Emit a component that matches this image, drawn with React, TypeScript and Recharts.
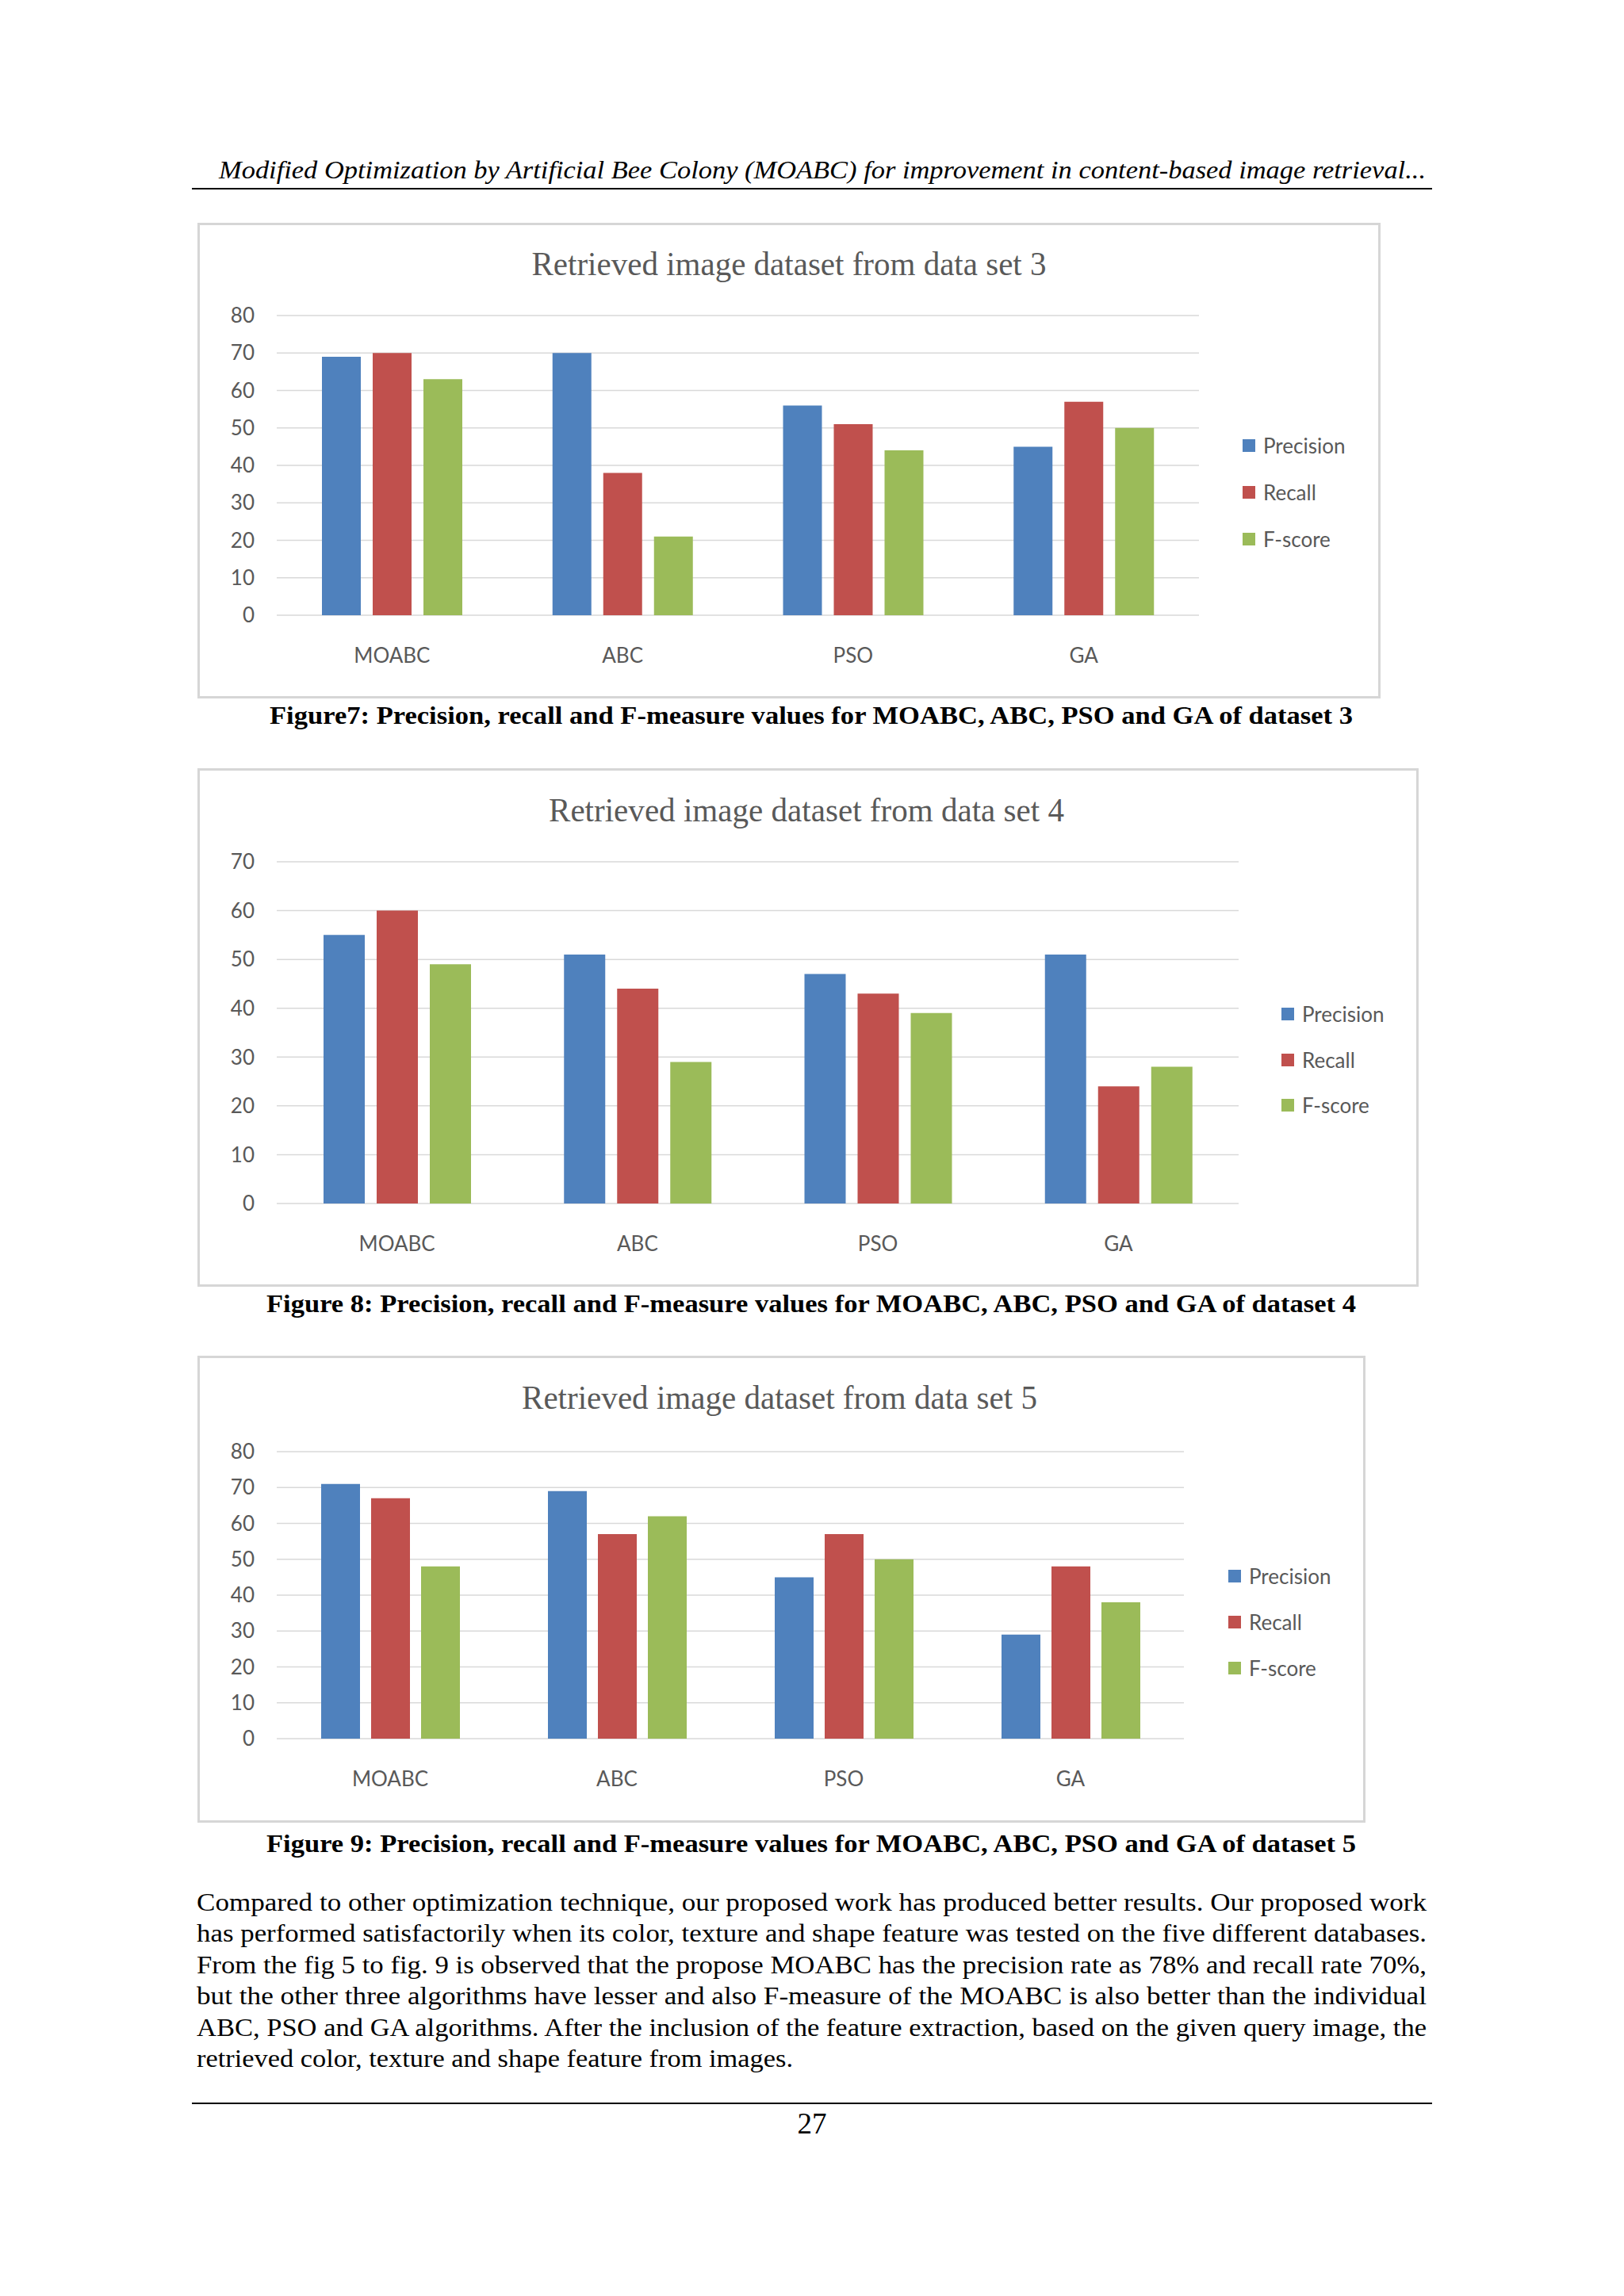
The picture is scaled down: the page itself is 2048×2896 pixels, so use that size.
import React from 'react';
import { BarChart, Bar, XAxis, YAxis, CartesianGrid, Legend } from 'recharts';

// ---------- data ----------
const categories = ['MOABC', 'ABC', 'PSO', 'GA'];
const seriesNames = ['Precision', 'Recall', 'F-score'];
const seriesColors = ['#4F81BD', '#C0504D', '#9BBB59'];

const ds3Precision = [69, 70, 56, 45];
const ds3Recall = [70, 38, 51, 57];
const ds3FScore = [63, 21, 44, 50];

const ds4Precision = [55, 51, 47, 51];
const ds4Recall = [60, 44, 43, 24];
const ds4FScore = [49, 29, 39, 28];

const ds5Precision = [71, 69, 45, 29];
const ds5Recall = [67, 57, 57, 48];
const ds5FScore = [48, 62, 50, 38];

const ticks80 = [0, 10, 20, 30, 40, 50, 60, 70, 80];
const ticks70 = [0, 10, 20, 30, 40, 50, 60, 70];

const chartTitles = [
  'Retrieved image dataset from data set 3',
  'Retrieved image dataset from data set 4',
  'Retrieved image dataset from data set 5',
];

const captions = [
  'Figure7: Precision, recall and F-measure values for MOABC, ABC, PSO and GA of dataset 3',
  'Figure 8: Precision, recall and F-measure values for MOABC, ABC, PSO and GA of dataset 4',
  'Figure 9: Precision, recall and F-measure values for MOABC, ABC, PSO and GA of dataset 5',
];

const headerText =
  'Modified Optimization by Artificial Bee Colony (MOABC) for improvement in content-based image retrieval...';

const bodyLines = [
  'Compared to other optimization technique, our proposed work has produced better results. Our proposed work',
  'has performed satisfactorily when its color, texture and shape feature was tested on the five different databases.',
  'From the fig 5 to fig. 9 is observed that the propose MOABC has the precision rate as 78% and recall rate 70%,',
  'but the other three algorithms have lesser and also F-measure of the MOABC is also better than the individual',
  'ABC, PSO and GA algorithms. After the inclusion of the feature extraction, based on the given query image, the',
  'retrieved color, texture and shape feature from images.',
];

const pageNumber = '27';

function buildRows(p: number[], r: number[], f: number[]) {
  return categories.map((c, i) => ({ name: c, Precision: p[i], Recall: r[i], 'F-score': f[i] }));
}

const rows3 = buildRows(ds3Precision, ds3Recall, ds3FScore);
const rows4 = buildRows(ds4Precision, ds4Recall, ds4FScore);
const rows5 = buildRows(ds5Precision, ds5Recall, ds5FScore);

// ---------- styles ----------
const TICK_FONT = { fontFamily: 'Lato', fontSize: 26, fill: '#595959' };
const GRID = '#d9d9d9';

function makeLegend(spacing: number) {
  return (props: any) => {
    const items = [...(props.payload || [])].sort(
      (a: any, b: any) => seriesNames.indexOf(String(a.value)) - seriesNames.indexOf(String(b.value))
    );
    return (
      <div style={{ position: 'relative', width: 220, height: spacing * 3 }}>
        {items.map((it: any, i: number) => (
          <div
            key={String(it.value)}
            style={{
              position: 'absolute',
              left: 0,
              top: i * spacing,
              height: 30,
              display: 'flex',
              alignItems: 'center',
              whiteSpace: 'nowrap',
            }}
          >
            <div style={{ width: 16, height: 16, background: it.color, marginRight: 10 }} />
            <span style={{ fontFamily: 'Lato', fontSize: 26, color: '#595959', lineHeight: '30px' }}>
              {it.value}
            </span>
          </div>
        ))}
      </div>
    );
  };
}

type ChartProps = {
  rows: any[];
  left: number;
  top: number;
  width: number;
  height: number;
  margin: { top: number; right: number; bottom: number; left: number };
  yMax: number;
  ticks: number[];
  barSize: number;
  barGap: number;
  legendLeft: number;
  legendTop: number;
  legendSpacing: number;
};

function DatasetChart(p: ChartProps) {
  return (
    <div style={{ position: 'absolute', left: p.left, top: p.top, width: p.width, height: p.height }}>
      <div
        style={{
          position: 'absolute',
          left: 0,
          top: 0,
          width: p.width,
          height: p.height,
          boxSizing: 'border-box',
          border: '3px solid #d6d6d6',
          background: '#ffffff',
        }}
      />
      <div style={{ position: 'absolute', left: 0, top: 0 }}>
        <BarChart
          width={p.width}
          height={p.height}
          data={p.rows}
          margin={p.margin}
          barSize={p.barSize}
          barGap={p.barGap}
        >
          <CartesianGrid vertical={false} stroke={GRID} strokeWidth={1.5} />
          <XAxis
            dataKey="name"
            height={60}
            axisLine={false}
            tickLine={false}
            tickSize={0}
            tickMargin={42}
            tick={TICK_FONT}
            interval={0}
          />
          <YAxis
            width={60}
            domain={[0, p.yMax]}
            ticks={p.ticks}
            axisLine={false}
            tickLine={false}
            tickSize={0}
            tickMargin={28}
            tick={TICK_FONT}
            interval={0}
          />
          <Legend
            layout="vertical"
            align="center"
            verticalAlign="middle"
            itemSorter={null as any}
            wrapperStyle={{ left: p.legendLeft, top: p.legendTop, width: 220, right: 'auto', bottom: 'auto' }}
            content={makeLegend(p.legendSpacing)}
          />
          {seriesNames.map((s, i) => (
            <Bar key={s} dataKey={s} name={s} fill={seriesColors[i]} isAnimationActive={false} />
          ))}
        </BarChart>
      </div>
    </div>
  );
}

const SERIF = "'Liberation Serif', 'Times New Roman', serif";

export default function App() {
  return (
    <div
      style={{
        position: 'absolute',
        left: 0,
        top: 0,
        width: 2048,
        height: 2896,
        background: '#ffffff',
        overflow: 'hidden',
      }}
    >
      <DatasetChart
        rows={rows3}
        left={249}
        top={281}
        width={1492}
        height={600}
        margin={{ top: 117, right: 229, bottom: 45, left: 40 }}
        yMax={80}
        ticks={ticks80}
        barSize={49}
        barGap={15}
        legendLeft={1318}
        legendTop={266}
        legendSpacing={59}
      />
      <DatasetChart
        rows={rows4}
        left={249}
        top={969}
        width={1540}
        height={654}
        margin={{ top: 118, right: 227, bottom: 45, left: 40 }}
        yMax={70}
        ticks={ticks70}
        barSize={52}
        barGap={15}
        legendLeft={1367}
        legendTop={295}
        legendSpacing={57.5}
      />
      <DatasetChart
        rows={rows5}
        left={249}
        top={1710}
        width={1473}
        height={589}
        margin={{ top: 121, right: 229, bottom: 46, left: 40 }}
        yMax={80}
        ticks={ticks80}
        barSize={49}
        barGap={14}
        legendLeft={1300}
        legendTop={263}
        legendSpacing={58}
      />

      <svg
        width={2048}
        height={2896}
        style={{ position: 'absolute', left: 0, top: 0, pointerEvents: 'none' }}
      >
        {/* running header */}
        <text
          x={276}
          y={225}
          fontFamily={SERIF}
          fontStyle="italic"
          fontSize={31}
          fill="#000"
          textLength={1522}
          lengthAdjust="spacingAndGlyphs"
        >
          {headerText}
        </text>
        <rect x={242} y={237} width={1564} height={2} fill="#000" />

        {/* chart titles */}
        <text x={995} y={347} textAnchor="middle" fontFamily={SERIF} fontSize={42} fill="#595959" textLength={649} lengthAdjust="spacingAndGlyphs">
          {chartTitles[0]}
        </text>
        <text x={1017} y={1036} textAnchor="middle" fontFamily={SERIF} fontSize={42} fill="#595959" textLength={650} lengthAdjust="spacingAndGlyphs">
          {chartTitles[1]}
        </text>
        <text x={983} y={1777} textAnchor="middle" fontFamily={SERIF} fontSize={42} fill="#595959" textLength={650} lengthAdjust="spacingAndGlyphs">
          {chartTitles[2]}
        </text>

        {/* captions */}
        <text x={340} y={913} fontFamily={SERIF} fontWeight="bold" fontSize={32} fill="#000" textLength={1366} lengthAdjust="spacingAndGlyphs">
          {captions[0]}
        </text>
        <text x={336} y={1655} fontFamily={SERIF} fontWeight="bold" fontSize={32} fill="#000" textLength={1374} lengthAdjust="spacingAndGlyphs">
          {captions[1]}
        </text>
        <text x={336} y={2336} fontFamily={SERIF} fontWeight="bold" fontSize={32} fill="#000" textLength={1374} lengthAdjust="spacingAndGlyphs">
          {captions[2]}
        </text>

        {/* body paragraph */}
        {bodyLines.map((line, i) => (
          <text
            key={i}
            x={248}
            y={2410 + i * 39.4}
            fontFamily={SERIF}
            fontSize={31}
            fill="#000"
            textLength={i < bodyLines.length - 1 ? 1551 : 752}
            lengthAdjust="spacingAndGlyphs"
          >
            {line}
          </text>
        ))}

        {/* footer */}
        <rect x={242} y={2652} width={1564} height={2} fill="#000" />
        <text x={1024} y={2691} textAnchor="middle" fontFamily={SERIF} fontSize={37} fill="#000">
          {pageNumber}
        </text>
      </svg>
    </div>
  );
}
